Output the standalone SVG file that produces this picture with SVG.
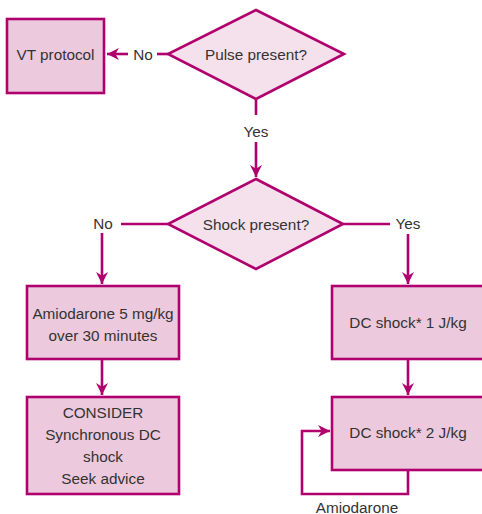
<svg xmlns="http://www.w3.org/2000/svg" width="482" height="514" viewBox="0 0 482 514">
  <style>
    .box { fill: #ecc9dd; stroke: #b0006e; stroke-width: 2.6; }
    .dia { fill: #f4e1ec; stroke: #b0006e; stroke-width: 2.6; }
    .ln { fill: none; stroke: #b0006e; stroke-width: 2.6; }
    text { font-family: "Liberation Sans", Arial, sans-serif; font-size: 15.3px; fill: #333333; text-anchor: middle; dominant-baseline: central; }
  </style>
  <defs>
    <marker id="arr" viewBox="0 0 10 10" refX="10" refY="5" markerWidth="4.6" markerHeight="4.6" markerUnits="strokeWidth" orient="auto">
      <path d="M0,0 L10,5 L0,10 L3,5 Z" fill="#b0006e"/>
    </marker>
  </defs>

  <g id="connectors">
    <!-- Pulse present? -> VT protocol -->
    <line class="ln" x1="168" y1="54" x2="157" y2="54"/>
    <line class="ln" x1="128" y1="54" x2="107" y2="54" marker-end="url(#arr)"/>
    <!-- Pulse present? -> Shock present? -->
    <line class="ln" x1="256" y1="99" x2="256" y2="115"/>
    <line class="ln" x1="256" y1="142" x2="256" y2="177" marker-end="url(#arr)"/>
    <!-- Shock present? -> Amiodarone -->
    <line class="ln" x1="168" y1="224" x2="121" y2="224"/>
    <line class="ln" x1="102" y1="233" x2="102" y2="284" marker-end="url(#arr)"/>
    <!-- Shock present? -> DC shock 1 -->
    <line class="ln" x1="343" y1="224" x2="390" y2="224"/>
    <line class="ln" x1="408" y1="234" x2="408" y2="284" marker-end="url(#arr)"/>
    <!-- Amiodarone -> Consider -->
    <line class="ln" x1="102" y1="359" x2="102" y2="395" marker-end="url(#arr)"/>
    <!-- DC shock 1 -> DC shock 2 -->
    <line class="ln" x1="408" y1="359" x2="408" y2="395" marker-end="url(#arr)"/>
    <!-- DC shock 2 loop -->
    <polyline class="ln" points="408,470 408,494 302,494 302,431 330,431" marker-end="url(#arr)"/>
  </g>

  <g id="labels">
    <text x="143" y="54">No</text>
    <text x="256" y="131">Yes</text>
    <text x="103" y="223">No</text>
    <text x="408" y="223">Yes</text>
    <text x="357" y="507">Amiodarone</text>
  </g>

  <g id="vt-protocol">
    <rect class="box" x="7" y="19" width="97" height="74"/>
    <text x="55.5" y="54">VT protocol</text>
  </g>

  <g id="pulse-present">
    <polygon class="dia" points="256,10 344,54 256,99 168,54"/>
    <text x="256" y="54">Pulse present?</text>
  </g>

  <g id="shock-present">
    <polygon class="dia" points="256,179 343,224 256,269 168,224"/>
    <text x="256" y="224">Shock present?</text>
  </g>

  <g id="amiodarone">
    <rect class="box" x="27" y="286" width="152" height="73"/>
    <text x="103" y="313">Amiodarone 5 mg/kg</text>
    <text x="103" y="335">over 30 minutes</text>
  </g>

  <g id="consider">
    <rect class="box" x="27" y="397" width="152" height="97"/>
    <text x="103" y="412">CONSIDER</text>
    <text x="103" y="434">Synchronous DC</text>
    <text x="103" y="456">shock</text>
    <text x="103" y="478">Seek advice</text>
  </g>

  <g id="dc-shock-1">
    <rect class="box" x="332" y="286" width="156" height="73"/>
    <text x="408" y="322">DC shock* 1 J/kg</text>
  </g>

  <g id="dc-shock-2">
    <rect class="box" x="332" y="397" width="156" height="73"/>
    <text x="408" y="432">DC shock* 2 J/kg</text>
  </g>
</svg>
